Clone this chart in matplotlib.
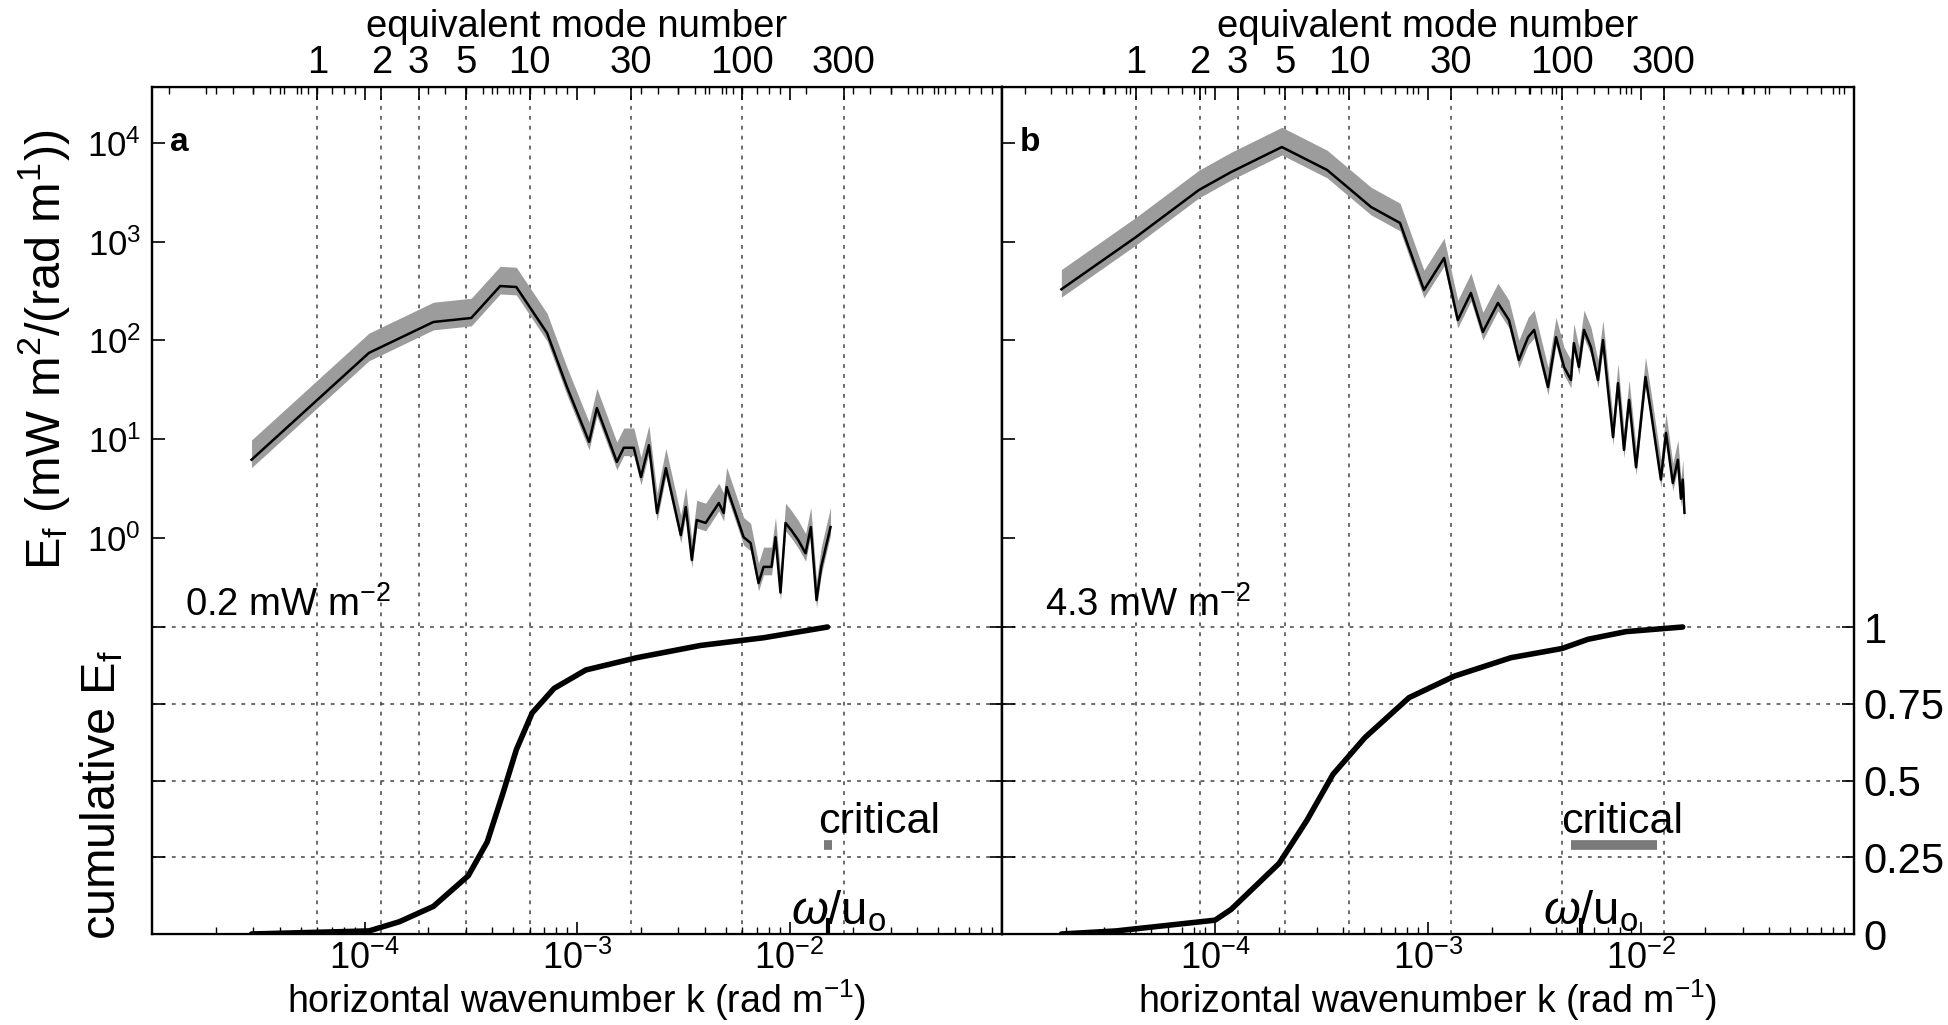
import matplotlib
matplotlib.use("Agg")
import matplotlib.pyplot as plt
from matplotlib.ticker import LogLocator, NullFormatter, NullLocator
from matplotlib.transforms import blended_transform_factory

plt.rcParams["font.family"] = ["Liberation Sans", "DejaVu Sans"]
plt.rcParams["mathtext.fontset"] = "custom"
plt.rcParams["mathtext.rm"] = "Liberation Sans"
plt.rcParams["mathtext.it"] = "Liberation Sans:italic"
plt.rcParams["mathtext.bf"] = "Liberation Sans:bold"
plt.rcParams["font.size"] = 27.5

# ---- panel a: spectrum (k in rad/m, E_f in mW m^-2 / (rad m^-1))
k_spec_a = [2.94e-5, 1.05e-4, 2.11e-4, 3.18e-4, 4.35e-4, 5.18e-4, 7.23e-4,
            8.97e-4, 1.14e-3, 1.24e-3, 1.54e-3, 1.66e-3, 1.85e-3, 2.0e-3,
            2.18e-3, 2.38e-3, 2.62e-3, 3.08e-3, 3.25e-3, 3.47e-3, 3.66e-3,
            4.03e-3, 4.65e-3, 4.90e-3, 5.06e-3, 5.57e-3, 6.08e-3, 6.56e-3,
            7.15e-3, 7.55e-3, 8.23e-3, 8.59e-3, 9.07e-3, 9.58e-3, 1.02e-2,
            1.10e-2, 1.19e-2, 1.26e-2, 1.34e-2, 1.41e-2, 1.56e-2]
E_spec_a = [6.2, 75, 154, 169, 356, 348, 119,
            33.8, 9.4, 20.7, 5.9, 8.2, 8.2, 4.15,
            8.7, 1.79, 5.1, 1.07, 2.06, 0.60, 1.52,
            1.42, 2.26, 1.79, 3.28, 1.79, 1.02, 0.89,
            0.35, 0.51, 0.51, 1.02, 0.28, 1.42, 1.20,
            0.95, 0.70, 1.29, 0.235, 0.51, 1.29]

# ---- panel b: spectrum
k_spec_b = [1.9e-5, 4.26e-5, 8.4e-5, 1.19e-4, 2.06e-4, 3.36e-4, 5.40e-4,
            7.39e-4, 9.57e-4, 1.19e-3, 1.38e-3, 1.59e-3, 1.81e-3, 2.13e-3,
            2.40e-3, 2.67e-3, 2.95e-3, 3.15e-3, 3.32e-3, 3.66e-3, 3.99e-3,
            4.35e-3, 4.69e-3, 4.84e-3, 5.11e-3, 5.40e-3, 5.82e-3, 6.28e-3,
            6.63e-3, 7.00e-3, 7.39e-3, 7.80e-3, 8.32e-3, 8.79e-3, 9.48e-3,
            1.05e-2, 1.11e-2, 1.24e-2, 1.31e-2, 1.41e-2, 1.49e-2, 1.54e-2,
            1.57e-2, 1.60e-2]
E_spec_b = [330, 1117, 3340, 5080, 9100, 5330, 2250,
            1550, 325, 684, 161, 303, 122, 240,
            161, 63.5, 108, 128, 80, 33.8, 108,
            54, 39.8, 94, 54, 128, 86, 39.8,
            101, 31.5, 10.5, 37, 7.8, 25, 5.2,
            42.7, 19.8, 3.9, 11.6, 3.6, 6.2, 2.5,
            3.9, 1.8]

# confidence band, read as decades above / below the line
band_up_dec = 0.2
band_dn_dec = 0.08

# ---- cumulative E_f (normalised)
k_cum_a = [2.94e-5, 1.05e-4, 1.46e-4, 2.11e-4, 3.08e-4, 3.78e-4, 4.49e-4,
           5.18e-4, 6.15e-4, 7.80e-4, 1.10e-3, 1.91e-3, 3.82e-3, 7.55e-3,
           1.51e-2]
c_cum_a = [0.0, 0.01, 0.04, 0.09, 0.19, 0.30, 0.46,
           0.60, 0.72, 0.80, 0.86, 0.90, 0.94, 0.965,
           1.0]
k_cum_b = [1.9e-5, 3.43e-5, 1.0e-4, 1.19e-4, 2.0e-4, 2.70e-4, 3.58e-4,
           5.06e-4, 8.15e-4, 1.33e-3, 2.45e-3, 4.26e-3, 5.64e-3, 8.51e-3,
           1.57e-2]
c_cum_b = [0.0, 0.01, 0.045, 0.08, 0.23, 0.37, 0.52,
           0.64, 0.77, 0.84, 0.90, 0.93, 0.96, 0.985,
           1.0]

# wavenumber of mode 1 (top axis conversion)
k_mode1 = {"a": 6.0e-5, "b": 4.26e-5}
mode_ticks = [1, 2, 3, 5, 10, 30, 100, 300]

totals = {"a": "0.2 mW m$^{-2}$", "b": "4.3 mW m$^{-2}$"}
totals_x = {"a": 0.039, "b": 0.05}
critical = {"a": (0.0146, 0.0158), "b": (4.69e-3, 1.19e-2)}
omega_u0 = {"a": 0.0152, "b": 5.2e-3}

cum_ticks = [0, 0.25, 0.5, 0.75, 1]
cum_labels = ["0", "0.25", "0.5", "0.75", "1"]
k_ticks = [1e-4, 1e-3, 1e-2]
k_labels = ["10$^{-4}$", "10$^{-3}$", "10$^{-2}$"]
E_ticks = [1e0, 1e1, 1e2, 1e3, 1e4]
E_labels = ["10$^{0}$", "10$^{1}$", "10$^{2}$", "10$^{3}$", "10$^{4}$"]

W, H = 1948, 1025
fig = plt.figure(figsize=(W / 100, H / 100), dpi=100)

panels = {
    "a": (152, 850, k_spec_a, E_spec_a, k_cum_a, c_cum_a),
    "b": (1002, 852, k_spec_b, E_spec_b, k_cum_b, c_cum_b),
}
grid_kw = dict(color="#444444", lw=1.1, ls=(0, (2.5, 4)), zorder=0)

for name, (x0, w, ks, Es, kc, cc) in panels.items():
    ax = fig.add_axes([x0 / W, 91 / H, w / W, 847 / H])
    ax.set_xscale("log")
    ax.set_yscale("log")
    ax.set_xlim(1e-5, 1e-1)
    ax.set_ylim(10 ** -4.01, 10 ** 4.567)

    k1 = k_mode1[name]
    for n in mode_ticks:
        ax.axvline(n * k1, **grid_kw)

    lo = [e * 10 ** -band_dn_dec for e in Es]
    hi = [e * 10 ** band_up_dec for e in Es]
    ax.fill_between(ks, lo, hi, color="#9c9c9c", lw=0, zorder=1)
    ax.plot(ks, Es, color="black", lw=1.8, zorder=2)

    ax.set_xticks(k_ticks, k_labels)
    ax.xaxis.set_minor_locator(LogLocator(base=10, subs=range(2, 10), numticks=20))
    ax.xaxis.set_minor_formatter(NullFormatter())
    ax.set_yticks(E_ticks, E_labels if name == "a" else [])
    ax.yaxis.set_minor_locator(NullLocator())
    ax.tick_params(axis="x", which="both", direction="in", top=True, pad=5,
                   labelsize=26)
    ax.tick_params(axis="x", which="major", length=9, width=1.2)
    ax.tick_params(axis="x", which="minor", length=5, width=1.0)
    ax.tick_params(axis="y", which="major", direction="in", length=9,
                   width=1.2, pad=8, labelsize=25)
    ax.set_xlabel("horizontal wavenumber k (rad m$^{-1}$)", labelpad=0,
                  fontsize=27)
    for sp in ax.spines.values():
        sp.set_linewidth(1.6)

    sec = ax.secondary_xaxis("top", functions=(lambda k, k1=k1: k / k1,
                                               lambda n, k1=k1: n * k1))
    sec.set_xticks(mode_ticks, [str(n) for n in mode_ticks])
    sec.xaxis.set_minor_locator(LogLocator(base=10, subs=range(2, 10), numticks=20))
    sec.xaxis.set_minor_formatter(NullFormatter())
    sec.tick_params(axis="x", which="major", direction="in", length=9,
                    width=1.2, pad=4)
    sec.tick_params(axis="x", which="minor", direction="in", length=5, width=1.0)
    sec.set_xlabel("equivalent mode number", labelpad=6)

    ax.text(0.021, 0.953, name, transform=ax.transAxes, fontsize=24,
            fontweight="bold", ha="left", va="top")

    # cumulative on a linear twin axis
    ax2 = ax.twinx()
    ax2.set_ylim(0, 2.759)
    for c in cum_ticks[1:]:
        ax2.axhline(c, **grid_kw)
    ax2.plot(kc, cc, color="black", lw=4, solid_capstyle="round", zorder=3)
    ax2.set_yticks(cum_ticks, cum_labels if name == "b" else [""] * 5)
    ax2.yaxis.set_ticks_position("both")
    ax2.tick_params(axis="y", direction="in", length=9, width=1.2, pad=7,
                    labelleft=False, labelright=(name == "b"), labelsize=30)
    ax2.spines["right"].set_linewidth(1.6)
    ax2.spines["left"].set_linewidth(1.6)

    tr = blended_transform_factory(ax2.transAxes, ax2.transData)
    ax2.text(totals_x[name], 1.01, totals[name], transform=tr,
             ha="left", va="bottom")

    ka, kb = critical[name]
    ax2.plot([ka, kb], [0.29, 0.29], color="#7a7a7a", lw=7,
             solid_capstyle="butt", zorder=3)
    ax2.text(ka * 0.93 if name == "a" else ka * 0.9, 0.33, "critical",
             ha="left", va="baseline", fontsize=31)

    ko = omega_u0[name]
    ax2.plot([ko, ko], [0, 0.045], color="black", lw=3, zorder=3)
    ax2.text(ko * 1.12, 0.0, r"$\omega$/u$_\mathrm{o}$", ha="center",
             va="bottom", fontsize=34)

    if name == "a":
        fig.text(44 / W, (1025 - 350) / H, r"E$_\mathrm{f}$ (mW m$^2$/(rad m$^1$))",
                 rotation=90, ha="center", va="center", fontsize=35)
        fig.text(102 / W, (1025 - 795) / H, r"cumulative E$_\mathrm{f}$",
                 rotation=90, ha="center", va="center", fontsize=35)

fig.savefig("out.png", dpi=100)
